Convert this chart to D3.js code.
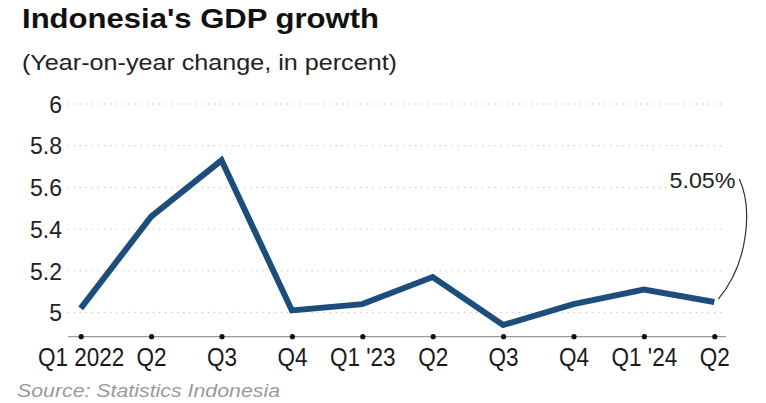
<!DOCTYPE html>
<html><head><meta charset="utf-8">
<script src="https://cdn.jsdelivr.net/npm/d3@7"></script>
<style>
body{margin:0;background:#fff;}
svg{display:block;font-family:"Liberation Sans",Arial,sans-serif;}
</style></head>
<body><svg id="c" width="766" height="403"></svg>
<script>
const categories = ["Q1 2022","Q2","Q3","Q4","Q1 '23","Q2","Q3","Q4","Q1 '24","Q2"];
const values = [5.02, 5.46, 5.73, 5.01, 5.04, 5.17, 4.94, 5.04, 5.11, 5.05];
const yTicks = [5, 5.2, 5.4, 5.6, 5.8, 6];
const title = "Indonesia's GDP growth";
const subtitle = "(Year-on-year change, in percent)";
const source = "Source: Statistics Indonesia";
const annotation = "5.05%";

const svg = d3.select("#c");
const idx = categories.map((d,i)=>i);
const x = d3.scalePoint().domain(idx).range([80.7, 714.3]);
const y = d3.scaleLinear().domain([5, 6]).range([312.5, 104]);

svg.append("text").attr("x",22).attr("y",27.5).attr("font-size",27.5).attr("font-weight","bold")
  .attr("fill","#111").attr("textLength",357).attr("lengthAdjust","spacingAndGlyphs").text(title);
svg.append("text").attr("x",22).attr("y",69.5).attr("font-size",22)
  .attr("fill","#222").attr("textLength",375).attr("lengthAdjust","spacingAndGlyphs").text(subtitle);

// grid
const grid = svg.append("g");
grid.selectAll("line").data(yTicks).join("line")
  .attr("x1",68).attr("x2",724).attr("y1",d=>y(d)).attr("y2",d=>y(d))
  .attr("stroke","#c4c4c4").attr("stroke-width",1.3).attr("stroke-dasharray","0.1,6").attr("stroke-linecap","round");

// y axis labels
const yAxis = d3.axisLeft(y).tickValues(yTicks).tickSize(0).tickPadding(0).tickFormat(d3.format("~g"));
const ga = svg.append("g").attr("transform","translate(62,0)").call(yAxis);
ga.select(".domain").remove();
ga.selectAll("text").attr("font-size",23).attr("fill","#222").attr("font-family","Liberation Sans, Arial, sans-serif").attr("dy","0.36em");

// x axis
const xAxis = d3.axisBottom(x).tickSize(0).tickPadding(0).tickFormat(i=>categories[i]);
const gx = svg.append("g").attr("transform","translate(0,336.7)").call(xAxis);
gx.select(".domain").attr("d","M68,0H726").attr("stroke","#999").attr("stroke-width",1.3);
gx.selectAll(".tick text").attr("font-size",25).attr("fill","#1a1a1a").attr("font-family","Liberation Sans, Arial, sans-serif").attr("dy","0").attr("y",29.5)
  .each(function(){ const w=this.getComputedTextLength(); d3.select(this).attr("textLength",w*0.9).attr("lengthAdjust","spacingAndGlyphs"); });
gx.selectAll(".tick").append("circle").attr("r",2.6).attr("fill","#111");

// line
const line = d3.line().x((d,i)=>x(i)).y(d=>y(d));
svg.append("path").datum(values).attr("d",line).attr("fill","none")
  .attr("stroke","#1d4d7b").attr("stroke-width",6).attr("stroke-linejoin","miter").attr("stroke-linecap","butt");

// annotation
const lx = x(idx[idx.length-1]), ly = y(values[values.length-1]);
svg.append("path").attr("d",`M${lx+4},${ly-3} C${lx+35},${ly-40} ${lx+38},${ly-95} ${lx+25},${ly-123}`)
  .attr("fill","none").attr("stroke","#333").attr("stroke-width",1.2);
svg.append("text").attr("x",669.5).attr("y",187.5).attr("font-size",22).attr("fill","#222")
  .attr("textLength",66).attr("lengthAdjust","spacingAndGlyphs").text(annotation);

svg.append("text").attr("x",17).attr("y",397).attr("font-size",19).attr("font-style","italic")
  .attr("fill","#9a9a9a").attr("textLength",263).attr("lengthAdjust","spacingAndGlyphs").text(source);
</script></body></html>
